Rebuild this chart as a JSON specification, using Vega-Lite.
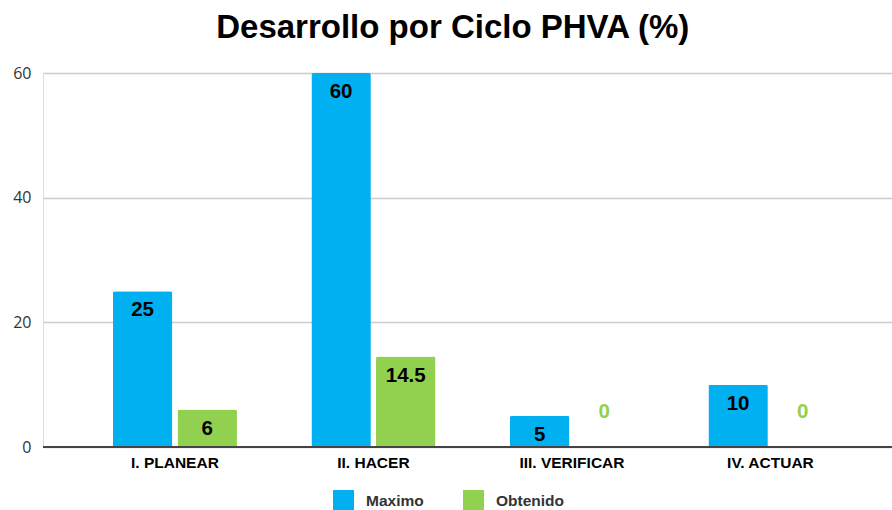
{
  "$schema": "https://vega.github.io/schema/vega-lite/v6.json",
  "width": 849,
  "height": 374,
  "autosize": {"type": "none"},
  "padding": {"left": 43, "top": 73, "right": 0, "bottom": 63},
  "background": "white",
  "title": {
    "text": "Desarrollo por Ciclo PHVA (%)",
    "font": "Liberation Sans",
    "fontSize": 33,
    "fontWeight": "bold",
    "color": "#000000",
    "anchor": "middle",
    "frame": "bounds",
    "offset": 20
  },
  "data": {
    "values": [
      {"fase": "I. PLANEAR", "serie": "Maximo", "valor": 25},
      {"fase": "I. PLANEAR", "serie": "Obtenido", "valor": 6},
      {"fase": "II. HACER", "serie": "Maximo", "valor": 60},
      {"fase": "II. HACER", "serie": "Obtenido", "valor": 14.5},
      {"fase": "III. VERIFICAR", "serie": "Maximo", "valor": 5},
      {"fase": "III. VERIFICAR", "serie": "Obtenido", "valor": 0},
      {"fase": "IV. ACTUAR", "serie": "Maximo", "valor": 10},
      {"fase": "IV. ACTUAR", "serie": "Obtenido", "valor": 0}
    ]
  },
  "encoding": {
    "x": {
      "field": "fase",
      "type": "nominal",
      "sort": null,
      "scale": {"paddingInner": 0.375, "paddingOuter": 0.326, "align": 0.54},
      "axis": {
        "title": null,
        "labelAngle": 0,
        "labelFont": "Liberation Sans",
        "labelFontSize": 15.5,
        "labelFontWeight": "bold",
        "labelColor": "#000000",
        "labelPadding": 8,
        "ticks": false,
        "domain": false
      }
    },
    "xOffset": {
      "field": "serie",
      "type": "nominal",
      "scale": {"paddingInner": 0.08}
    },
    "y": {
      "field": "valor",
      "type": "quantitative",
      "scale": {"domain": [0, 60], "nice": false},
      "axis": {
        "title": null,
        "values": [0, 20, 40, 60],
        "labelFont": "Open Sans",
        "labelFontSize": 16,
        "labelColor": "#333333",
        "labelPadding": 12,
        "ticks": false,
        "domain": false,
        "gridColor": "#cccccc",
        "gridWidth": 1.5
      }
    }
  },
  "layer": [
    {
      "mark": {"type": "bar", "cornerRadiusTopLeft": 2, "cornerRadiusTopRight": 2},
      "encoding": {
        "color": {
          "field": "serie",
          "type": "nominal",
          "scale": {"domain": ["Maximo", "Obtenido"], "range": ["#00b0f0", "#92d050"]},
          "legend": {
            "title": null,
            "orient": "none",
            "legendX": 290,
            "legendY": 417,
            "direction": "horizontal",
            "symbolType": "square",
            "symbolSize": 440,
            "symbolStrokeWidth": 0,
            "labelFont": "Liberation Sans",
            "labelFontSize": 15.5,
            "labelFontWeight": "bold",
            "labelColor": "#333333",
            "labelOffset": 12,
            "columnPadding": 39
          }
        }
      }
    },
    {
      "mark": {"type": "rule", "color": "#444444", "strokeWidth": 1.5},
      "encoding": {"y": {"datum": 0}, "x": null, "xOffset": null}
    },
    {
      "transform": [{"filter": "datum.valor > 0"}],
      "mark": {
        "type": "text",
        "font": "Liberation Sans",
        "fontSize": 20.5,
        "fontWeight": "bold",
        "color": "#000000",
        "baseline": "middle",
        "dy": 19
      },
      "encoding": {"text": {"field": "valor", "type": "quantitative"}}
    },
    {
      "transform": [{"filter": "datum.valor == 0"}],
      "mark": {
        "type": "text",
        "font": "Liberation Sans",
        "fontSize": 20.5,
        "fontWeight": "bold",
        "color": "#92d050",
        "baseline": "middle",
        "dy": -35
      },
      "encoding": {"text": {"field": "valor", "type": "quantitative"}}
    }
  ]
}
